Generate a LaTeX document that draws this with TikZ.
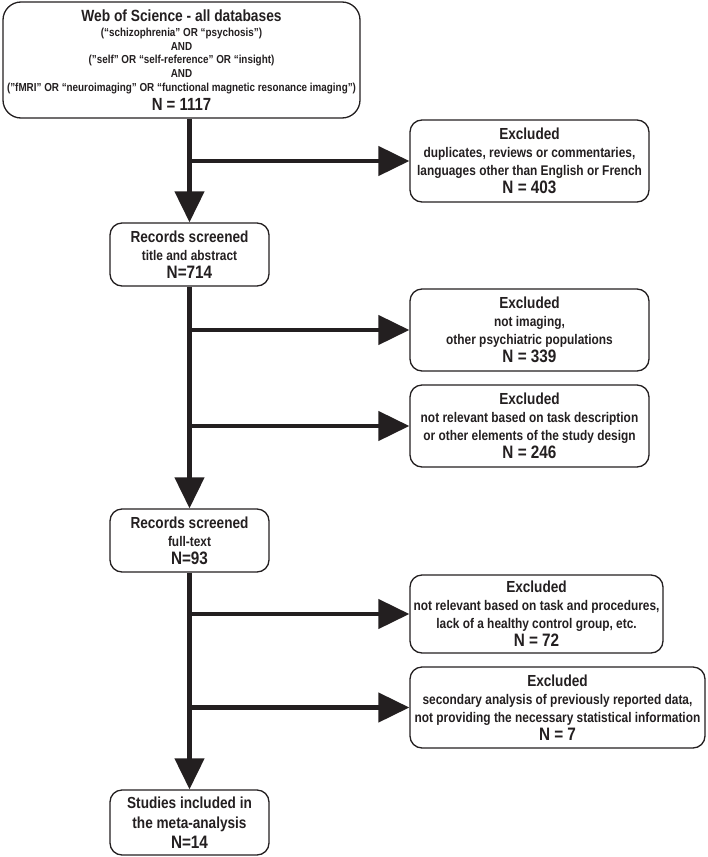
\documentclass[tikz,border=0pt]{standalone}
\usepackage{fontspec}
\setmainfont{Liberation Sans}[FakeStretch=0.85]
\usetikzlibrary{arrows.meta}
\definecolor{ink}{HTML}{231F20}
\begin{document}
\begin{tikzpicture}[x=1pt,y=-1pt,
  box/.style={draw=ink, line width=1.3pt, rounded corners=12pt, align=center,
    inner sep=0pt, text=ink, font=\bfseries\fontsize{14}{18}\selectfont},
  arr/.style={draw=ink, line width=4.5pt, -{Triangle[length=31pt,width=29pt]}},
]
\useasboundingbox (0,0) rectangle (708,857);

\node[box, rounded corners=18pt, minimum width=357pt, minimum height=116pt,
  font=\bfseries\fontsize{11.6}{13.6}\selectfont] (top) at (181.5,60)
  {{\fontsize{16.2}{18}\selectfont Web of Science - all databases}\\[2pt]
   (“schizophrenia” OR “psychosis”)\\
   AND\\
   ("self" OR “self-reference” OR “insight)\\
   AND\\
   ("fMRI" OR “neuroimaging” OR “functional magnetic resonance imaging”)\\[4pt]
   {\fontsize{17.6}{18}\selectfont N = 1117}};

\node[box, minimum width=239pt, minimum height=82pt] (ex1) at (529.5,161)
  {{\fontsize{16}{18}\selectfont Excluded}\\
   duplicates, reviews or commentaries,\\
   languages other than English or French\\
   {\fontsize{18}{18}\selectfont N = 403}};

\node[box, minimum width=159pt, minimum height=63pt] (rec1) at (189.5,254.5)
  {{\fontsize{16}{18}\selectfont Records screened}\\
   title and abstract\\
   {\fontsize{18}{18}\selectfont N=714}};

\node[box, minimum width=239pt, minimum height=82pt] (ex2) at (529.5,330)
  {{\fontsize{16}{18}\selectfont Excluded}\\
   not imaging,\\
   other psychiatric populations\\
   {\fontsize{18}{18}\selectfont N = 339}};

\node[box, minimum width=239pt, minimum height=82pt] (ex3) at (529.5,426)
  {{\fontsize{16}{18}\selectfont Excluded}\\
   not relevant based on task description\\
   or other elements of the study design\\
   {\fontsize{18}{18}\selectfont N = 246}};

\node[box, minimum width=159pt, minimum height=63pt] (rec2) at (189.5,540.5)
  {{\fontsize{16}{18}\selectfont Records screened}\\
   full-text\\
   {\fontsize{18}{18}\selectfont N=93}};

\node[box, minimum width=253pt, minimum height=78pt] (ex4) at (536.5,614)
  {{\fontsize{16}{18}\selectfont Excluded}\\
   not relevant based on task and procedures,\\
   lack of a healthy control group, etc.\\
   {\fontsize{18}{18}\selectfont N = 72}};

\node[box, minimum width=295pt, minimum height=81pt] (ex5) at (557.5,707.5)
  {{\fontsize{16}{18}\selectfont Excluded}\\
   secondary analysis of previously reported data,\\
   not providing the necessary statistical information\\
   {\fontsize{18}{18}\selectfont N = 7}};

\node[box, minimum width=159pt, minimum height=65pt,
  font=\bfseries\fontsize{16}{20}\selectfont] (fin) at (189.5,822.5)
  {Studies included in\\
   the meta-analysis\\
   {\fontsize{18}{20}\selectfont N=14}};

\coordinate (t0) at (rec1.center |- top.south);
\coordinate (j1) at (rec1.center |- ex1.west);
\coordinate (j2) at (rec1.center |- ex2.west);
\coordinate (j3) at (rec1.center |- ex3.west);
\coordinate (j4) at (rec2.center |- ex4.west);
\coordinate (j5) at (rec2.center |- ex5.west);

\draw[arr] (t0) -- (rec1);
\draw[arr] (rec1) -- (rec2);
\draw[arr] (rec2) -- (fin);
\draw[arr] (j1) -- (ex1);
\draw[arr] (j2) -- (ex2);
\draw[arr] (j3) -- (ex3);
\draw[arr] (j4) -- (ex4);
\draw[arr] (j5) -- (ex5);
\end{tikzpicture}
\end{document}
